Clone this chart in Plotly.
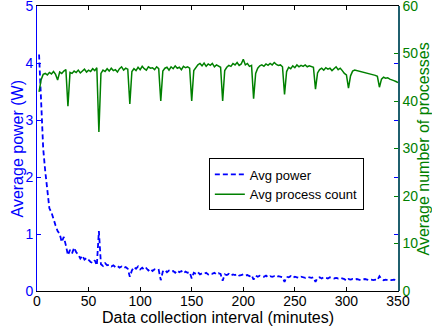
import plotly.graph_objects as go

# time axis (minutes), 2-minute sampling
minutes = list(range(2, 351, 2))

avg_power = [
    4.15, 3.30, 2.50, 2.10, 1.80, 1.45, 1.38, 1.25, 1.15, 1.05, 1.00, 0.86, 0.95, 0.80, 0.63,
    0.72, 0.66, 0.76, 0.68, 0.64, 0.57, 0.62, 0.55, 0.58, 0.54, 0.51, 0.49, 0.54, 0.45, 1.05,
    0.47, 0.44, 0.49, 0.45, 0.46, 0.43, 0.45, 0.42, 0.44, 0.41, 0.43, 0.40, 0.42, 0.39, 0.25,
    0.36, 0.42, 0.39, 0.43, 0.38, 0.41, 0.37, 0.40, 0.36, 0.39, 0.35, 0.38, 0.36, 0.37, 0.19,
    0.34, 0.37, 0.33, 0.36, 0.34, 0.35, 0.32, 0.36, 0.33, 0.35, 0.31, 0.34, 0.32, 0.33, 0.22,
    0.32, 0.30, 0.33, 0.29, 0.31, 0.30, 0.32, 0.29, 0.31, 0.30, 0.32, 0.29, 0.31, 0.30, 0.18,
    0.29, 0.28, 0.30, 0.27, 0.29, 0.28, 0.30, 0.27, 0.28, 0.29, 0.27, 0.28, 0.26, 0.28, 0.20,
    0.27, 0.25, 0.27, 0.26, 0.25, 0.27, 0.24, 0.26, 0.25, 0.26, 0.24, 0.26, 0.25, 0.24, 0.16,
    0.25, 0.24, 0.26, 0.23, 0.25, 0.24, 0.23, 0.25, 0.24, 0.23, 0.25, 0.24, 0.23, 0.24, 0.16,
    0.23, 0.24, 0.22, 0.24, 0.23, 0.22, 0.24, 0.23, 0.22, 0.23, 0.22, 0.23, 0.22, 0.21, 0.18,
    0.21, 0.20, 0.21, 0.20, 0.21, 0.20, 0.19, 0.20, 0.21, 0.20, 0.19, 0.20, 0.19, 0.20, 0.19,
    0.26, 0.21, 0.19, 0.20, 0.19, 0.20, 0.19, 0.20, 0.19, 0.20,
]

avg_process_count = [
    41.9, 44.5, 45.6, 45.8, 45.5, 46.0, 45.7, 46.2, 45.6, 44.4, 46.1, 45.8, 46.3, 46.6, 38.9,
    46.0, 45.8, 46.3, 46.0, 46.5, 45.9, 46.4, 46.7, 46.1, 46.5, 46.2, 46.8, 46.4, 47.0, 33.5,
    45.8, 46.5, 46.2, 46.8, 46.3, 46.9, 46.4, 46.6, 46.1, 46.8, 47.2, 46.5, 46.9, 46.7, 39.4,
    46.2, 46.8, 46.4, 47.1, 46.6, 47.3, 46.8, 46.5, 47.2, 46.9, 47.0, 46.6, 47.2, 46.8, 40.0,
    46.3, 46.9, 47.1, 46.5, 47.2, 46.8, 47.4, 46.9, 47.1, 46.6, 47.3, 47.0, 47.2, 46.9, 40.0,
    46.4, 47.0, 47.6, 47.9, 47.4, 48.0, 47.3, 47.8, 47.5, 47.9, 47.2, 47.6, 47.4, 47.1, 40.0,
    46.4, 47.1, 47.5, 47.3, 47.9, 47.6, 48.1, 47.5, 47.8, 48.8, 47.6, 47.9, 47.3, 47.5, 40.5,
    45.8, 46.9, 47.4, 47.6, 47.3, 47.8, 47.5, 47.9, 47.6, 48.1, 47.7, 47.5, 47.6, 47.2, 41.4,
    46.2, 47.1, 46.8, 47.4, 47.0, 47.6, 47.2, 47.5, 47.3, 47.6, 47.2, 47.4, 47.3, 47.1, 42.5,
    45.9, 46.6, 46.9, 46.5, 47.0, 46.7, 46.9, 46.4, 46.8, 47.2, 46.6, 46.9, 46.4, 45.8, 45.5,
    42.7, 45.3, 46.3, 46.5, 46.4, 46.3, 46.2, 46.1, 46.0, 45.9, 45.8, 45.6, 45.5, 45.4, 45.2,
    42.9, 44.6, 45.0, 44.8, 44.9, 44.6, 44.5, 44.3, 44.1, 43.9,
]

x_ticks = [0, 50, 100, 150, 200, 250, 300, 350]
power_ticks = [0, 1, 2, 3, 4, 5]
count_ticks = [0, 10, 20, 30, 40, 50, 60]

FONT = "Liberation Sans, Arial, sans-serif"
BLUE = "#0000ff"
GREEN = "#008000"

fig = go.Figure()
fig.add_trace(go.Scatter(
    x=minutes, y=avg_power, mode="lines", name="Avg power",
    line=dict(color=BLUE, width=1.8, dash="5px,3px"), yaxis="y",
))
fig.add_trace(go.Scatter(
    x=minutes, y=avg_process_count, mode="lines", name="Avg process count",
    line=dict(color=GREEN, width=1.5), yaxis="y2",
))

fig.update_layout(
    width=432, height=329,
    margin=dict(l=37, r=34, t=6, b=38, autoexpand=False),
    paper_bgcolor="white", plot_bgcolor="white",
    font=dict(family=FONT, size=14, color="black"),
    showlegend=True,
    legend=dict(
        x=0.476, y=0.465, xanchor="left", yanchor="top",
        bgcolor="white", bordercolor="black", borderwidth=1,
        font=dict(family=FONT, size=13, color="black"),
        tracegroupgap=0, itemwidth=30,
    ),
    xaxis=dict(
        range=[0, 350], tickvals=x_ticks, ticks="inside", ticklen=4,
        tickcolor="black", showline=True, linecolor="black", linewidth=1,
        mirror="ticks", showgrid=False, zeroline=False, automargin=False,
        ticklabeloverflow="allow", ticklabelstandoff=-3,
        tickfont=dict(size=14, color="black"),
    ),
    yaxis=dict(
        range=[0, 5], tickvals=power_ticks, ticks="inside", ticklen=4,
        tickcolor=BLUE, showline=True, linecolor=BLUE, linewidth=1,
        mirror="ticks", showgrid=False, zeroline=False, automargin=False,
        ticklabeloverflow="allow",
        tickfont=dict(size=14, color=BLUE),
    ),
    yaxis2=dict(
        range=[0, 60], tickvals=count_ticks, overlaying="y", side="right",
        ticks="inside", ticklen=4, tickcolor=GREEN,
        showline=True, linecolor="#1f5f6e", linewidth=1.5,
        showgrid=False, zeroline=False, automargin=False,
        ticklabeloverflow="allow",
        tickfont=dict(size=14, color=GREEN),
    ),
    annotations=[
        dict(text="Data collection interval (minutes)", xref="paper", yref="paper",
             x=0.5, y=-0.093, xanchor="center", yanchor="middle", showarrow=False,
             font=dict(size=16, color="black")),
        dict(text="Average power (W)", xref="paper", yref="paper",
             x=-0.0554, y=0.5, xanchor="center", yanchor="middle", showarrow=False,
             textangle=-90, font=dict(size=16, color=BLUE)),
        dict(text="Average number of processes", xref="paper", yref="paper",
             x=1.072, y=0.5, xanchor="center", yanchor="middle", showarrow=False,
             textangle=-90, font=dict(size=16, color=GREEN)),
    ],
)

fig.write_html(
    "out.html",
    config={"displayModeBar": False},
    post_script="document.body.style.margin='0';document.body.style.overflow='hidden';",
)
